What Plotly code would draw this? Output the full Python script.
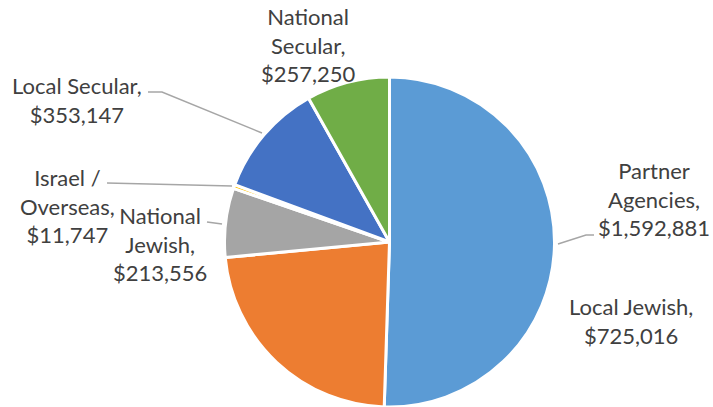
import plotly.graph_objects as go

W, H = 713, 407

categories = ["Partner Agencies", "Local Jewish", "National Jewish",
              "Israel / Overseas", "Local Secular", "National Secular"]
values = [1592881, 725016, 213556, 11747, 353147, 257250]
label_names = ["Partner<br>Agencies,", "Local Jewish,", "National<br>Jewish,",
               "Israel /<br>Overseas,", "Local Secular,", "National<br>Secular,"]

colors = ["#5B9BD5", "#ED7D31", "#A5A5A5", "#FFC000", "#4472C4", "#70AD47"]

# pie geometry (pixels)
cx, cy, r = 389.5, 242, 165

def px(x):
    return x / W

def py(y):
    return 1 - y / H

fig = go.Figure(go.Pie(
    labels=categories,
    values=values,
    sort=False,
    direction="clockwise",
    rotation=0,
    textinfo="none",
    hoverinfo="label+value",
    marker=dict(colors=colors, line=dict(color="white", width=3)),
    domain=dict(x=[px(cx - r), px(cx + r)], y=[py(cy + r), py(cy - r)]),
    showlegend=False,
))

# label placement (pixel centres), layout only
label_pos = [(654, 199), (631, 321), (160, 244), (67, 206), (77, 100), (308, 45)]

annotations = []
for name, v, (lx, ly) in zip(label_names, values, label_pos):
    annotations.append(dict(
        x=px(lx), y=py(ly), xref="paper", yref="paper",
        text=f"{name}<br>${v:,}", showarrow=False,
        xanchor="center", yanchor="middle", align="center",
        font=dict(family="Lato", size=22, color="#404040"),
    ))

leaders = [
    [(558, 244), (586, 235), (594, 235)],
    [(148, 92), (162, 92), (262, 133)],
    [(107, 183), (232, 186)],
    [(207, 222), (222, 224)],
]
shapes = []
for pts in leaders:
    path = "M " + " L ".join(f"{px(x)},{py(y)}" for x, y in pts)
    shapes.append(dict(type="path", xref="paper", yref="paper", path=path,
                       line=dict(color="#A6A6A6", width=1.5)))

fig.update_layout(
    width=W, height=H,
    margin=dict(l=0, r=0, t=0, b=0),
    paper_bgcolor="white", plot_bgcolor="white",
    annotations=annotations, shapes=shapes,
)

fig.write_html(
    "out.html",
    config={"displayModeBar": False},
    post_script="document.body.style.margin='0';document.body.style.overflow='hidden';",
)
